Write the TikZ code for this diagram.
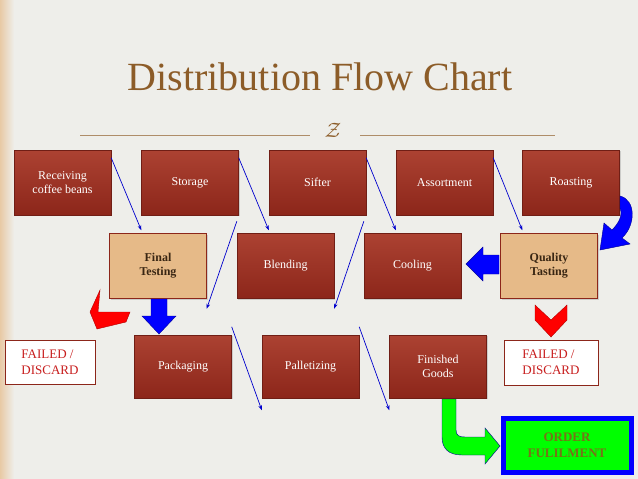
\documentclass[tikz,border=0pt]{standalone}
\usepackage{fontspec}
\setmainfont{Liberation Serif}
\usetikzlibrary{arrows.meta,shadows}
\definecolor{bg}{RGB}{238,238,234}
\definecolor{boxtop}{RGB}{172,66,50}
\definecolor{boxbot}{RGB}{140,38,26}
\definecolor{tan}{RGB}{230,186,136}
\definecolor{titlec}{RGB}{140,92,40}
\definecolor{failc}{RGB}{200,30,30}
\tikzset{
 redbox/.style={draw=boxbot!80!black,top color=boxtop,bottom color=boxbot,text=white,minimum width=97pt,minimum height=65pt,align=center,font=\fontsize{12}{14}\selectfont,drop shadow={opacity=0.3,shadow xshift=1pt,shadow yshift=-1pt}},
 tanbox/.style={draw=boxbot,fill=tan,text=black!70!brown,minimum width=97pt,minimum height=65pt,align=center,font=\fontsize{12}{14}\selectfont\bfseries,drop shadow={opacity=0.3,shadow xshift=1pt,shadow yshift=-1pt}},
 failbox/.style={draw=boxbot,fill=white,text=failc,align=left,font=\fontsize{13}{16}\selectfont,inner sep=2pt},
 thin/.style={draw=blue!80!black,-{Stealth[length=5pt]},line width=0.7pt},
 blk/.style={fill=blue,draw=blue!60!black},
 redarr/.style={fill=red,draw=red!70!black}
}
\begin{document}
\begin{tikzpicture}[x=1pt,y=-1pt]
\useasboundingbox (0,0) rectangle (638,479);
\fill[bg] (0,0) rectangle (638,479);
\shade[left color=tan!70!bg,right color=bg] (0,0) rectangle (14,479);
\node[text=titlec,font=\fontsize{40}{44}\selectfont] (title) at (320,77) {Distribution Flow Chart};
\draw[titlec!70,line width=0.6pt] (80,135) -- (310,135) (360,135) -- (555,135);
\node[text=titlec,font=\fontsize{20}{20}\selectfont] (sym) at (333,130) {$\mathcal{Z}$};
% row 1
\node[redbox] (recv) at (62.5,182.5) {Receiving\\coffee beans};
\node[redbox] (stor) at (190,182.5) {Storage};
\node[redbox] (sift) at (317.5,182.5) {Sifter};
\node[redbox] (asso) at (444.5,182.5) {Assortment};
\node[redbox] (roas) at (571,182.5) {Roasting};
% row 2
\node[tanbox] (fint) at (158,266) {Final\\Testing};
\node[redbox] (blen) at (285.5,266) {Blending};
\node[redbox] (cool) at (412.5,266) {Cooling};
\node[tanbox] (qual) at (549,266) {Quality\\Tasting};
% row 3
\node[redbox,minimum height=63pt] (pack) at (183,366.5) {Packaging};
\node[redbox,minimum height=63pt] (pall) at (310.5,366.5) {Palletizing};
\node[redbox,minimum height=63pt] (fing) at (438,366.5) {Finished\\Goods};
\node[failbox,minimum width=90pt,minimum height=44pt] (fail1) at (50,362) {FAILED /\\DISCARD};
\node[failbox,minimum width=94pt,minimum height=45pt] (fail2) at (551,362.5) {FAILED /\\DISCARD};
\node[draw=blue,line width=5pt,fill=green,text=olive!80!black,minimum width=128pt,minimum height=54pt,align=center,font=\fontsize{13}{16}\selectfont\bfseries] (ordr) at (567,445) {ORDER\\FULILMENT};
% thin arrows
\draw[thin] (recv.north east) ++(0,8) -- ([yshift=-15]stor.south west);
\draw[thin] (stor.north east) ++(0,8) -- ([yshift=-15]sift.south west);
\draw[thin] (sift.north east) ++(0,8) -- ([yshift=-15]asso.south west);
\draw[thin] (asso.north east) ++(0,8) -- ([yshift=-15]roas.south west);
\draw[thin] ([yshift=12]cool.north west) -- ([yshift=-10]blen.south east);
\draw[thin] ([yshift=12]blen.north west) -- ([yshift=-10]fint.south east);
\draw[thin] ([yshift=8]pack.north east) -- ([yshift=-12]pall.south west);
\draw[thin] ([yshift=8]pall.north east) -- ([yshift=-12]fing.south west);
% big blue curved arrow roasting -> quality
\fill[blk] (620,196) .. controls (636,200) and (636,225) .. (622,238) -- (630,244) -- (600,250) -- (604,223) -- (612,230) .. controls (622,220) and (622,212) .. (620,208) -- cycle;
% blue left arrow quality -> cooling
\fill[blk] (499,255) -- (483,255) -- (483,247) -- (466,264) -- (483,281) -- (483,274) -- (499,274) -- cycle;
% blue down arrow final testing -> packaging
\fill[blk] (151,299) -- (167,299) -- (167,316) -- (176,316) -- (159,334) -- (142,316) -- (151,316) -- cycle;
% red chevrons
\fill[redarr] (535,305) -- (551,320) -- (567,305) -- (567,320) -- (551,337) -- (535,320) -- cycle;
\fill[redarr] (100,290) -- (98,312) -- (130,312) -- (126,322) -- (97,329) -- (90,312) -- cycle;
% green arrow finished goods -> order
\fill[green,draw=blue!60!black] (442,399) -- (456,399) -- (456,430) .. controls (456,436) and (460,437) .. (465,437) -- (485,437) -- (485,428) -- (500,446) -- (485,464) -- (485,455) -- (462,455) .. controls (448,455) and (442,448) .. (442,437) -- cycle;
\end{tikzpicture}
\end{document}
